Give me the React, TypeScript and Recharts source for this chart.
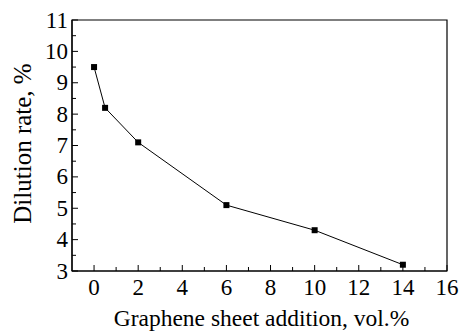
import React from 'react';
import { LineChart, Line, XAxis, YAxis, ReferenceArea, Label } from 'recharts';

const additions = [0, 0.5, 2, 6, 10, 14];
const dilution = [9.5, 8.2, 7.1, 5.1, 4.3, 3.2];
const xTicks = [0, 1, 2, 3, 4, 5, 6, 7, 8, 9, 10, 11, 12, 13, 14, 15, 16];
const yTicks = [3, 3.5, 4, 4.5, 5, 5.5, 6, 6.5, 7, 7.5, 8, 8.5, 9, 9.5, 10, 10.5, 11];

const data = additions.map((x, i) => ({ x, y: dilution[i] }));

const FONT = '"Liberation Serif", "Times New Roman", serif';

const XTick = (props: any) => {
  const { x, y, payload } = props;
  const v = payload.value;
  const major = v % 2 === 0;
  return (
    <g>
      <line x1={x} y1={y} x2={x} y2={y - (major ? 6 : 4)} stroke="#000" strokeWidth={1} />
      {major && (
        <text x={x} y={y + 24} textAnchor="middle" fontSize={23} fontFamily={FONT} fill="#000">
          {v}
        </text>
      )}
    </g>
  );
};

const YTick = (props: any) => {
  const { x, y, payload } = props;
  const v = payload.value;
  const major = Number.isInteger(v);
  return (
    <g>
      <line x1={x} y1={y} x2={x + (major ? 6 : 4)} y2={y} stroke="#000" strokeWidth={1} />
      {major && (
        <text x={x - 4} y={y + 7.5} textAnchor="end" fontSize={23} fontFamily={FONT} fill="#000">
          {v}
        </text>
      )}
    </g>
  );
};

const Square = (props: any) => {
  const { cx, cy } = props;
  if (cx == null || cy == null) return null;
  return <rect x={cx - 3} y={cy - 3} width={6} height={6} fill="#000" />;
};

const XLabel = (props: any) => {
  const vb = props.viewBox;
  return (
    <text x={vb.x + vb.width / 2 + 2} y={vb.y + 55} textAnchor="middle" fontSize={23.5} fontFamily={FONT} fill="#000">
      Graphene sheet addition, vol.%
    </text>
  );
};

const YLabel = (props: any) => {
  const vb = props.viewBox;
  const cx = vb.x + 31;
  const cy = vb.y + vb.height / 2 - 2;
  return (
    <text x={cx} y={cy} transform={`rotate(-90 ${cx} ${cy})`} textAnchor="middle" fontSize={25} fontFamily={FONT} fill="#000">
      Dilution rate, %
    </text>
  );
};

export default function App() {
  return (
    <div style={{ position: 'absolute', left: 0, top: 0, background: '#fff' }}>
      <LineChart width={459} height={332} data={data} margin={{ top: 20, right: 12, left: 0, bottom: 0 }}>
        <XAxis
          dataKey="x"
          type="number"
          domain={[-1, 16]}
          ticks={xTicks}
          interval={0}
          tickSize={0}
          tickMargin={0}
          tickLine={false}
          tick={<XTick />}
          axisLine={{ stroke: '#000', strokeWidth: 1.2 }}
          height={61}
          allowDataOverflow
        >
          <Label content={<XLabel />} />
        </XAxis>
        <YAxis
          type="number"
          domain={[3, 11]}
          ticks={yTicks}
          interval={0}
          tickSize={0}
          tickMargin={0}
          tickLine={false}
          tick={<YTick />}
          axisLine={{ stroke: '#000', strokeWidth: 1.2 }}
          width={72}
          allowDataOverflow
        >
          <Label content={<YLabel />} />
        </YAxis>
        <ReferenceArea x1={-1} x2={16} y1={3} y2={11} fill="none" stroke="#000" strokeWidth={1.2} />
        <Line
          dataKey="y"
          stroke="#000"
          strokeWidth={1}
          dot={<Square />}
          activeDot={false}
          isAnimationActive={false}
        />
      </LineChart>
    </div>
  );
}
